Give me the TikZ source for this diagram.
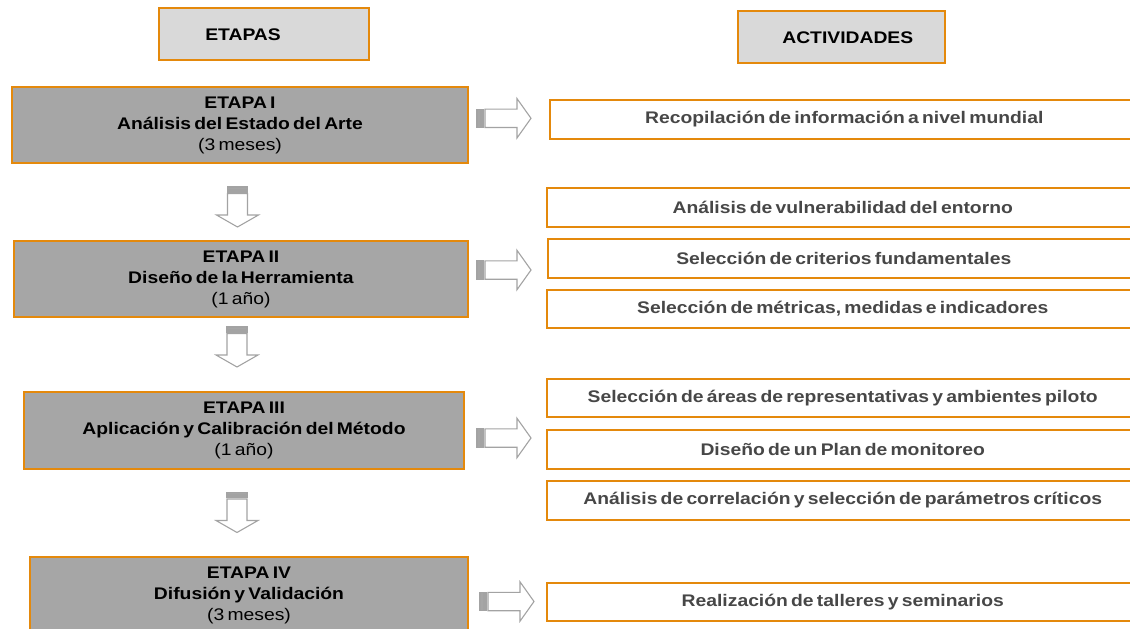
\documentclass[tikz,border=0pt]{standalone}
\usepackage{fontspec}
\setmainfont{Liberation Sans}[FakeStretch=1.15, WordSpace=0.6]
\definecolor{orng}{HTML}{E4890C}
\definecolor{stagegray}{HTML}{A6A6A6}
\definecolor{headgray}{HTML}{D9D9D9}
\definecolor{acttext}{HTML}{474747}
\definecolor{arrline}{HTML}{A3A3A3}
\definecolor{stripe}{HTML}{A6A6A6}
\tikzset{
  base/.style={font=\fontsize{16.8}{21}\selectfont, inner sep=0pt},
  headbox/.style={draw=orng, line width=1.8pt, fill=headgray, inner sep=0pt},
  headtext/.style={base, font=\fontsize{16.8}{21}\selectfont\bfseries, text=black},
  stagebox/.style={base, draw=orng, line width=1.8pt, fill=stagegray, align=center, text=black, minimum height=76pt},
  actbox/.style={base, draw=orng, line width=1.5pt, fill=white, text=acttext, font=\fontsize{16.8}{21}\selectfont\bfseries, minimum height=39pt, anchor=west},
  arrowline/.style={draw=arrline, line width=1.1pt, line join=miter},
  rstriped/.pic={
    \filldraw[arrowline, fill=stripe] (0,-9.2) rectangle (3.5,9.2);
    \filldraw[arrowline, fill=stripe] (5,-9.2) rectangle (6.5,9.2);
    \filldraw[arrowline, fill=white] (8,-9.2) -- (40,-9.2) -- (40,-19.7) -- (54,0) -- (40,19.7) -- (40,9.2) -- (8,9.2) -- cycle;
  },
  dstriped/.pic={
    \filldraw[arrowline, fill=stripe] (-10,0) rectangle (10,2.5);
    \filldraw[arrowline, fill=stripe] (-10,4) rectangle (10,5.3);
    \filldraw[arrowline, fill=white] (-10,6.5) -- (-10,28) -- (-21,28) -- (0,40) -- (21,28) -- (10,28) -- (10,6.5) -- cycle;
  }
}
\begin{document}
\begin{tikzpicture}[x=1pt, y=-1pt]
\useasboundingbox (0,0) rectangle (1130,629);

% headers
\node[headbox, minimum width=210pt, minimum height=52pt] (h1) at (264,34) {};
\node[headtext, anchor=west] (h1t) at ([xshift=47pt, yshift=-1pt]h1.west) {ETAPAS};
\node[headbox, minimum width=207pt, minimum height=52.6pt] (h2) at (841.5,37) {};
\node[headtext, anchor=west] (h2t) at ([xshift=45pt, yshift=-1pt]h2.west) {ACTIVIDADES};

% stages
\node[stagebox, minimum width=456pt] (s1) at (240,125) {\textbf{ETAPA I}\\\textbf{Análisis del Estado del Arte}\\(3 meses)};
\node[stagebox, minimum width=454pt] (s2) at (241,279) {\textbf{ETAPA II}\\\textbf{Diseño de la Herramienta}\\(1 año)};
\node[stagebox, minimum width=440pt, minimum height=77pt] (s3) at (244,430.5) {\textbf{ETAPA III}\\\textbf{Aplicación y Calibración del Método}\\(1 año)};
\node[stagebox, minimum width=438pt] (s4) at (249,595) {\textbf{ETAPA IV}\\\textbf{Difusión y Validación}\\(3 meses)};

% activities
\node[actbox, minimum width=589pt] (a1) at (549,119.5) {Recopilación de información a nivel mundial};
\node[actbox, minimum width=592pt] (a2) at (546,207.5) {Análisis de vulnerabilidad del entorno};
\node[actbox, minimum width=592pt] (a3) at (547,258.5) {Selección de criterios fundamentales};
\node[actbox, minimum width=592pt, minimum height=38pt] (a4) at (546,309) {Selección de métricas, medidas e indicadores};
\node[actbox, minimum width=592pt, minimum height=38pt] (a5) at (546,398) {Selección de áreas de representativas y ambientes piloto};
\node[actbox, minimum width=592pt] (a6) at (546,449.5) {Diseño de un Plan de monitoreo};
\node[actbox, minimum width=592pt] (a7) at (546,500.5) {Análisis de correlación y selección de parámetros críticos};
\node[actbox, minimum width=592pt, minimum height=38pt] (a8) at (546,602) {Realización de talleres y seminarios};

% right block arrows
\pic at (477,118.3) {rstriped};
\pic at (477,270) {rstriped};
\pic at (477,438) {rstriped};
\pic at (480,601.5) {rstriped};

% down block arrows
\pic at (237.5,187) {dstriped};
\pic at (237,327) {dstriped};
\pic at (237,492.5) {dstriped};
\end{tikzpicture}
\end{document}
